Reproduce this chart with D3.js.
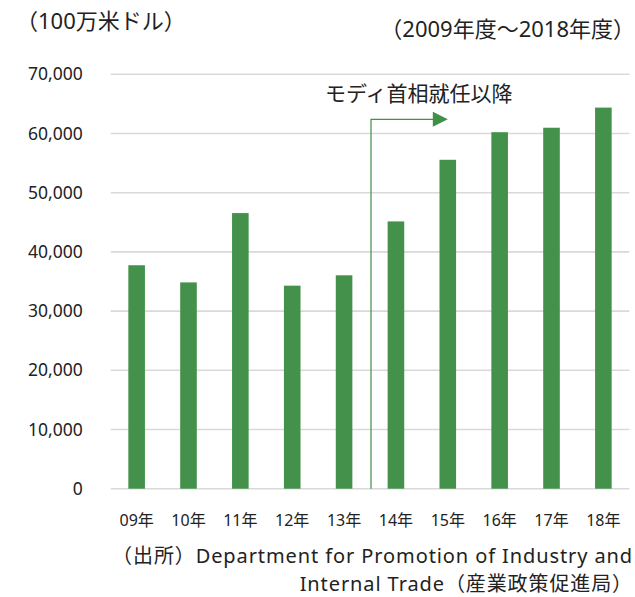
<!DOCTYPE html>
<html>
<head>
<meta charset="UTF-8">
<title></title>
<script src="https://d3js.org/d3.v7.min.js"></script>
<style>
  body { margin: 0; background: #fff; }
  text { font-family: "Noto Sans", "Noto Sans CJK JP", sans-serif; fill: #222; }
</style>
</head>
<body>
<div id="chart"></div>
<script>
const categories = ['09年', '10年', '11年', '12年', '13年', '14年', '15年', '16年', '17年', '18年'];
const values = [37745, 34847, 46556, 34298, 36046, 45148, 55559, 60220, 60974, 64375]; // 100万米ドル
const yTicks = [0, 10000, 20000, 30000, 40000, 50000, 60000, 70000];
const modiStart = '14年';   // arrow starts at the gap before this year
const arrowLevel = 62400;   // height of the arrow

const width = 635, height = 597;
const margin = {top: 74.3, left: 110.7, right: 5.7, bottom: 108.3};

const svg = d3.select('#chart').append('svg').attr('width', width).attr('height', height);

const x = d3.scaleBand().domain(categories)
  .range([margin.left, width - margin.right])
  .paddingInner(0.68).paddingOuter(0.34);
const y = d3.scaleLinear().domain([0, 70000]).range([height - margin.bottom, margin.top]);

// grid
svg.append('g').selectAll('line').data(yTicks).enter().append('line')
  .attr('x1', margin.left).attr('x2', width - margin.right)
  .attr('y1', d => y(d)).attr('y2', d => y(d))
  .attr('stroke', '#d9d9d9').attr('stroke-width', 1.6);

// y axis labels
const yAxis = d3.axisLeft(y).tickValues(yTicks).tickSize(0).tickPadding(0)
  .tickFormat(d3.format(','));
const gY = svg.append('g').attr('transform', `translate(${margin.left - 28},0)`).call(yAxis);
gY.select('.domain').remove();
gY.selectAll('text').attr('font-size', 17.5).attr('fill', '#222')
  .attr('font-family', '"DejaVu Sans", sans-serif');

// bars
svg.append('g').selectAll('rect').data(values).enter().append('rect')
  .attr('x', (d, i) => x(categories[i]))
  .attr('y', d => y(d))
  .attr('width', x.bandwidth())
  .attr('height', d => y(0) - y(d))
  .attr('fill', '#43914a');

// x axis labels
const xAxis = d3.axisBottom(x).tickSize(0).tickPadding(0);
const gX = svg.append('g').attr('transform', `translate(0,${y(0) + 26})`).call(xAxis);
gX.select('.domain').remove();
gX.selectAll('text').attr('font-size', 16).attr('fill', '#222')
  .attr('font-family', '"Noto Sans", "Noto Sans CJK JP", sans-serif');

// arrow
const i0 = categories.indexOf(modiStart);
const ax0 = x(modiStart) - x.step() * x.paddingInner() / 2 + 1;
const ax1 = x(categories[i0 + 1]) + x.bandwidth() / 2;
svg.append('path')
  .attr('d', `M${ax0},${y(0)}V${y(arrowLevel)}H${ax1 - 14}`)
  .attr('fill', 'none').attr('stroke', '#3f9147').attr('stroke-width', 1.2);
svg.append('path')
  .attr('d', `M${ax1 - 15},${y(arrowLevel) - 7.5}L${ax1},${y(arrowLevel)}L${ax1 - 15},${y(arrowLevel) + 7.5}Z`)
  .attr('fill', '#3f9147');
svg.append('text')
  .attr('x', ax1 - 29).attr('y', y(arrowLevel) - 18)
  .attr('text-anchor', 'middle').attr('font-size', 21)
  .text('モディ首相就任以降');

// titles
svg.append('text').attr('x', 16).attr('y', 29)
  .attr('font-size', 22).text('（100万米ドル）');
svg.append('text').attr('x', 635).attr('y', 37)
  .attr('text-anchor', 'end').attr('font-size', 22).text('（2009年度～2018年度）');

// source
svg.append('text').attr('x', 633).attr('y', 563).attr('text-anchor', 'end')
  .attr('font-size', 20).attr('letter-spacing', 0.9)
  .text('（出所）Department for Promotion of Industry and');
svg.append('text').attr('x', 633).attr('y', 590.5).attr('text-anchor', 'end')
  .attr('font-size', 20).attr('letter-spacing', 0.9)
  .text('Internal Trade（産業政策促進局）');
</script>
</body>
</html>
